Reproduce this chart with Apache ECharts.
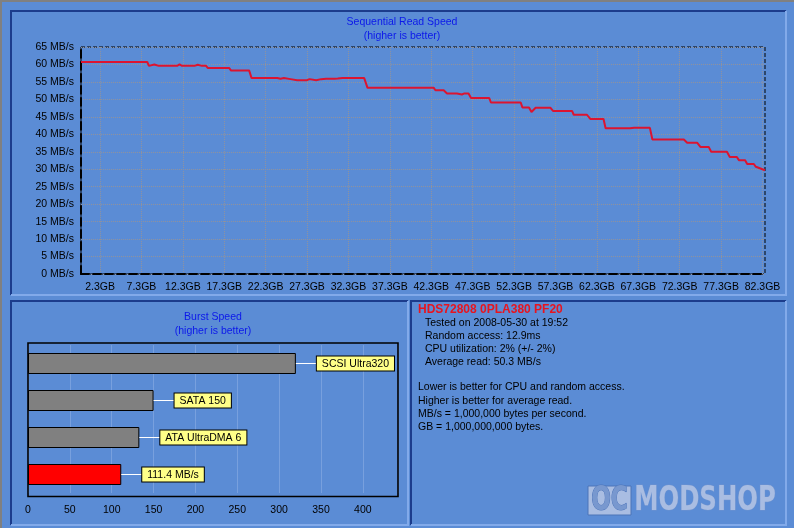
<!DOCTYPE html>
<html><head><meta charset="utf-8">
<script src="https://cdn.jsdelivr.net/npm/echarts@6/dist/echarts.min.js"></script>
<style>html,body{margin:0;padding:0;background:#5b8cd5;}#c{width:794px;height:528px;}</style>
</head><body><div id="c"></div>
<script>
// ---- Sequential read trace (position in GB, speed in MB/s) ----
const readGB = [0, 8.0, 8.2, 8.85, 9.4, 11.6, 11.9, 12.2, 13.7, 14.1, 14.6, 15.1, 15.3, 17.9, 18.1, 20.3, 20.6,
  23.7, 24.1, 24.5, 25.3, 26.1, 27.3, 27.6, 28.4, 29.0, 29.6, 30.6, 31.0, 31.6, 33.0, 33.2, 33.8, 34.2, 34.6,
  42.6, 42.8, 43.8, 44.0, 44.2, 45.4, 45.6, 46.0, 46.3, 46.8, 47.1, 49.3, 49.5, 53.1, 53.3, 54.1, 54.4, 54.9,
  56.7, 57.0, 59.3, 59.5, 61.1, 61.5, 63.1, 63.35, 65.6, 65.8, 66.3, 66.8, 67.3, 68.7, 69.0, 72.8, 73.2, 74.4,
  74.8, 75.8, 76.1, 78.0, 78.35, 79.2, 79.45, 80.2, 80.45, 81.25, 81.5, 82.6];
const readMBs = [60.7, 60.7, 59.6, 60.0, 59.6, 59.6, 60.0, 59.6, 59.6, 59.9, 59.6, 59.6, 59.0, 59.0, 58.3, 58.3, 56.1,
  56.1, 55.9, 56.1, 55.8, 55.5, 55.5, 55.8, 55.5, 55.8, 55.9, 55.9, 55.95, 56.1, 56.1, 55.8, 56.1, 56.1, 53.3,
  53.3, 52.6, 52.6, 52.1, 51.7, 51.7, 51.4, 51.4, 51.7, 51.7, 50.4, 50.4, 49.1, 49.1, 47.7, 47.7, 46.4, 47.6,
  47.6, 46.7, 46.7, 45.6, 45.6, 44.4, 44.4, 41.75, 41.75, 41.9, 41.75, 41.9, 41.85, 41.85, 38.5, 38.5, 37.6, 37.6,
  36.4, 36.4, 35.0, 35.0, 33.5, 33.5, 32.6, 32.6, 31.5, 31.5, 30.7, 29.7];
const xTickValues = [2.3, 7.3, 12.3, 17.3, 22.3, 27.3, 32.3, 37.3, 42.3, 47.3, 52.3, 57.3, 62.3, 67.3, 72.3, 77.3, 82.3];
const xTickLabels = ['2.3GB','7.3GB','12.3GB','17.3GB','22.3GB','27.3GB','32.3GB','37.3GB','42.3GB','47.3GB','52.3GB','57.3GB','62.3GB','67.3GB','72.3GB','77.3GB','82.3GB'];

// ---- Burst speed ----
const burstNames = ['SCSI Ultra320', 'SATA 150', 'ATA UltraDMA 6', 'HDS72808 0PLA380 PF20'];
const burstValues = [320, 150, 133, 111.4];
const burstLabels = ['SCSI Ultra320', 'SATA 150', 'ATA UltraDMA 6', '111.4 MB/s'];
const burstIsCurrent = [false, false, false, true];

// ---- Info panel ----
const infoHeading = 'HDS72808 0PLA380 PF20';
const infoLines = ['Tested on 2008-05-30 at 19:52', 'Random access: 12.9ms', 'CPU utilization: 2% (+/- 2%)', 'Average read: 50.3 MB/s'];
const noteLines = ['Lower is better for CPU and random access.', 'Higher is better for average read.', 'MB/s = 1,000,000 bytes per second.', 'GB = 1,000,000,000 bytes.'];

const FONT = '"Liberation Sans", Arial, sans-serif';
const BG = '#5b8cd5';
const DARK = '#1c3c8c';
const LIGHT = '#82aaea';
const TITLE_BLUE = '#0c18ea';
const GRIDC = '#8f929e';
const WM = '#a9bde2';
const WMFONT = 'bold 33px "DejaVu Sans Condensed", "DejaVu Sans", sans-serif';

function frame(x1, y1, x2, y2) {
  return [
    {type: 'polyline', silent: true, shape: {points: [[x1, y2], [x1, y1], [x2, y1]]}, style: {stroke: DARK, lineWidth: 2, fill: null}},
    {type: 'polyline', silent: true, shape: {points: [[x2, y1], [x2, y2], [x1, y2]]}, style: {stroke: LIGHT, lineWidth: 2, fill: null}}
  ];
}

const graphics = [
  {type: 'rect', silent: true, shape: {x: 0, y: 0, width: 794, height: 2}, style: {fill: '#808080'}},
  {type: 'rect', silent: true, shape: {x: 0, y: 0, width: 2, height: 528}, style: {fill: '#808080'}},
  ...frame(11, 11, 786, 295),
  ...frame(11, 301, 408, 525),
  ...frame(411, 301, 786, 525),
  {type: 'rect', silent: true, z: 10, shape: {x: 28, y: 343, width: 370, height: 153.5}, style: {stroke: '#000', lineWidth: 1.6, fill: null}},
  {type: 'text', silent: true, x: 418, y: 309.5, style: {text: infoHeading, fill: '#e8141e', font: 'bold 12px ' + FONT, textVerticalAlign: 'middle'}}
];
infoLines.forEach((t, i) => graphics.push({type: 'text', silent: true, x: 425, y: 322.7 + i * 13.1,
  style: {text: t, fill: '#000', font: '10.5px ' + FONT, textVerticalAlign: 'middle'}}));
noteLines.forEach((t, i) => graphics.push({type: 'text', silent: true, x: 418, y: 387.6 + i * 13.1,
  style: {text: t, fill: '#000', font: '10.5px ' + FONT, textVerticalAlign: 'middle'}}));
// watermark
graphics.push(
  {type: 'rect', silent: true, shape: {x: 588, y: 486, width: 43, height: 29}, style: {fill: WM, stroke: '#4d74b8', lineWidth: 1}},
  {type: 'text', silent: true, x: 609.5, y: 501, scaleX: 0.78,
    style: {text: 'OC', fill: '#7898cf', stroke: '#4d74b8', lineWidth: 1, font: WMFONT, textAlign: 'center', textVerticalAlign: 'middle'}},
  {type: 'text', silent: true, x: 705, y: 501, scaleX: 0.82,
    style: {text: 'MODSHOP', fill: WM, stroke: '#6f93cf', lineWidth: 1, font: WMFONT, textAlign: 'center', textVerticalAlign: 'middle'}}
);

const chart = echarts.init(document.getElementById('c'), null, {renderer: 'canvas'});
chart.setOption({
  backgroundColor: BG,
  animation: false,
  textStyle: {fontFamily: FONT},
  title: [
    {text: 'Sequential Read Speed\n(higher is better)', left: 397, textAlign: 'center', top: 10,
      textStyle: {fontSize: 10.5, fontWeight: 'normal', color: TITLE_BLUE, lineHeight: 14, fontFamily: FONT}},
    {text: 'Burst Speed\n(higher is better)', left: 208, textAlign: 'center', top: 305,
      textStyle: {fontSize: 10.5, fontWeight: 'normal', color: TITLE_BLUE, lineHeight: 14, fontFamily: FONT}}
  ],
  grid: [
    {left: 81, top: 47, width: 684, height: 227, show: true, borderColor: '#000', borderWidth: 1, borderType: 'dashed', backgroundColor: 'transparent'},
    {left: 28, top: 345, width: 370, height: 148}
  ],
  xAxis: [
    {gridIndex: 0, type: 'value', min: 0, max: 82.6,
      axisLine: {show: true, lineStyle: {color: '#000', width: 2, type: 'dashed'}},
      axisTick: {show: false, customValues: xTickValues},
      axisLabel: {customValues: xTickValues, color: '#000', fontSize: 10.5, margin: 8,
        formatter: v => { let k = xTickValues.findIndex(t => Math.abs(t - v) < 1e-6); return k >= 0 ? xTickLabels[k] : ''; }},
      splitLine: {show: true, lineStyle: {color: GRIDC, type: 'dotted', width: 1}}},
    {gridIndex: 1, type: 'value', min: 0, max: 442, interval: 50,
      axisLine: {show: false}, axisTick: {show: false},
      axisLabel: {color: '#000', fontSize: 10.5, margin: 12, showMaxLabel: false},
      splitLine: {show: true, lineStyle: {color: '#78a0de', width: 1}}}
  ],
  yAxis: [
    {gridIndex: 0, type: 'value', min: 0, max: 65, interval: 5,
      axisLine: {show: true, lineStyle: {color: '#000', width: 2, type: 'dashed'}},
      axisTick: {show: false},
      axisLabel: {color: '#000', fontSize: 10.5, margin: 7, formatter: v => v + ' MB/s'},
      splitLine: {show: true, lineStyle: {color: GRIDC, type: 'dotted', width: 1}}},
    {gridIndex: 1, type: 'category', data: burstNames, inverse: true,
      axisLine: {show: false}, axisTick: {show: false}, axisLabel: {show: false}, splitLine: {show: false}}
  ],
  series: [
    {type: 'line', xAxisIndex: 0, yAxisIndex: 0, symbol: 'none', showSymbol: false, z: 5,
      data: readGB.map((g, i) => [g, readMBs[i]]),
      lineStyle: {color: '#dc1430', width: 2}},
    {type: 'bar', xAxisIndex: 1, yAxisIndex: 1, barWidth: 21, z: 5,
      data: burstValues.map((v, i) => ({value: v, itemStyle: {color: burstIsCurrent[i] ? '#ff0000' : '#808080'}})),
      itemStyle: {borderColor: '#000', borderWidth: 1},
      label: {show: true, position: 'right', distance: 0,
        formatter: p => '{line| }{box|' + burstLabels[p.dataIndex] + '}',
        rich: {
          line: {width: 21, height: 1, backgroundColor: '#ffffff', fontSize: 1, verticalAlign: 'middle'},
          box: {backgroundColor: '#ffff88', borderColor: '#000', borderWidth: 1, padding: [2, 5, 1, 5],
            color: '#000', fontSize: 10.5, fontFamily: FONT, verticalAlign: 'middle'}
        }}}
  ],
  graphic: graphics
});
</script></body></html>
